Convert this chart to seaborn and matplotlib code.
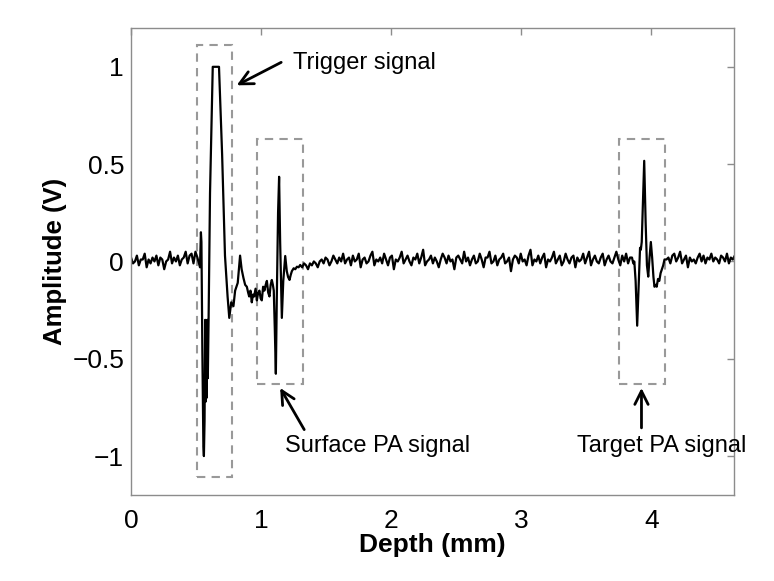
import numpy as np
import pandas as pd
import matplotlib
matplotlib.use('Agg')
import matplotlib.pyplot as plt
from matplotlib.patches import Rectangle
import seaborn as sns

# baseline noise in hundredths of a volt, one sample every 0.015 mm
step_mm = 0.015
noise_a_start = 0.0
noise_a = [2, -1, 0, 3, -2, 1, 1, 4, -3, 1,
           -1, 2, 0, 3, -2, 2, 1, -4, 0, 1,
           5, -1, 2, 0, 3, -2, 1, 2, 5, -1,
           3, 4, -1, 5, 2]

# trigger pulse (clipped at 1 V) and the slow tail after it
trigger_depth = [0.530, 0.537, 0.541, 0.548, 0.556, 0.560, 0.565, 0.570, 0.574, 0.578,
                 0.582, 0.586, 0.590, 0.596, 0.607, 0.628, 0.676, 0.700, 0.722, 0.742,
                 0.755, 0.770, 0.787, 0.800, 0.820, 0.838, 0.850, 0.864]
trigger_amp = [-0.03, 0.15, 0.10, -0.45, -0.95, -1.0, -0.82, -0.30, -0.72, -0.32,
               -0.70, -0.30, -0.60, -0.30, 0.35, 1.0, 1.0, 0.55, 0.03, -0.18,
               -0.29, -0.21, -0.23, -0.15, -0.11, 0.03, -0.04, -0.085]

tail_depth = [0.877, 0.890, 0.900, 0.908, 0.918, 0.928, 0.937, 0.946, 0.957, 0.967,
              0.977, 0.987, 0.996, 1.005, 1.015, 1.025, 1.035, 1.044, 1.054, 1.064,
              1.073, 1.082, 1.090]
tail_amp = [-0.12, -0.13, -0.16, -0.18, -0.15, -0.21, -0.17, -0.18, -0.14, -0.20,
            -0.16, -0.15, -0.19, -0.20, -0.13, -0.15, -0.12, -0.10, -0.16, -0.18,
            -0.12, -0.095, -0.12]

# surface PA signal
surface_depth = [1.097, 1.105, 1.113, 1.120, 1.130, 1.138, 1.146, 1.159, 1.170, 1.185,
                 1.197, 1.207, 1.218, 1.227, 1.236, 1.250, 1.262, 1.275, 1.288, 1.300]
surface_amp = [-0.15, -0.35, -0.577, -0.20, 0.25, 0.435, 0.10, -0.29, -0.10, 0.028,
               -0.05, -0.08, -0.095, -0.07, -0.05, -0.035, -0.04, -0.027, -0.03, -0.018]

noise_b_start = 1.315
noise_b = [-3, -1, -2, -4, -1, -2, 0, -1, -3, 0,
           1, -1, 2, 1, -2, 0, 3, 1, -1, 2,
           0, 4, -1, 1, 2, -2, 3, 0, 1, 4,
           -3, 1, 2, -1, 0, 3, 5, -2, 1, 0,
           2, -1, 4, 1, -2, 2, 3, -4, 1, 0,
           2, 5, -1, 1, 3, 0, -2, 2, 1, 4,
           -1, 2, 6, -2, 0, 1, 3, -1, 2, 0,
           -3, 1, 4, 2, -1, 3, 0, 1, -4, 2,
           3, 1, -1, 5, 0, 2, -2, 1, 3, -1,
           0, 4, 1, -3, 2, 2, 5, -1, 0, 3,
           -2, 1, 2, 4, -1, 0, 2, -5, 1, 3,
           2, -1, 4, 0, 1, -2, 3, 6, -2, 1,
           0, 3, -1, 2, 4, -3, 1, 0, 2, 5,
           -1, 1, 3, -2, 0, 4, 1, -1, 2, 3,
           -3, 2, 0, 1, 4, -1, 2, 5, -2, 1,
           3, 0, -1, 2, 4, -2, 1, 3, 0, -1,
           2, 5, 1, -2, 3, 0, 4, -1, 2]

# target PA signal
target_depth = [3.850, 3.860, 3.868, 3.878, 3.890, 3.900, 3.912, 3.918, 3.925, 3.944,
                3.955, 3.965, 3.975, 3.985, 3.995, 4.005, 4.015, 4.023, 4.033, 4.040,
                4.050, 4.060, 4.070, 4.080, 4.090, 4.100]
target_amp = [0.02, -0.01, 0.0, -0.10, -0.33, -0.15, 0.07, 0.06, 0.10, 0.517,
              0.20, -0.02, -0.078, 0.02, 0.10, 0.02, -0.08, -0.13, -0.12, -0.13,
              -0.09, -0.10, -0.06, -0.04, -0.02, 0.01]

noise_c_start = 4.115
noise_c = [1, 2, -1, 3, 4, 0, 2, 5, -1, 1,
           3, -3, 2, 0, 1, -1, 2, 4, 0, 3,
           -1, 2, 1, 4, 0, 2, 1, -1, 3, 2,
           0, 4, -1, 2, 1, 3]

x_ticks = [0, 1, 2, 3, 4]
y_ticks = [-1, -0.5, 0, 0.5, 1]
y_tick_labels = ['\u22121', '\u22120.5', '0', '0.5', '1']


def noise_part(start, vals):
    d = start + step_mm * np.arange(len(vals))
    return d, np.array(vals) / 100.0


na_d, na_v = noise_part(noise_a_start, noise_a)
nb_d, nb_v = noise_part(noise_b_start, noise_b)
nc_d, nc_v = noise_part(noise_c_start, noise_c)

df = pd.DataFrame({
    'depth': np.concatenate([na_d, trigger_depth, tail_depth, surface_depth, nb_d, target_depth, nc_d]),
    'amp': np.concatenate([na_v, trigger_amp, tail_amp, surface_amp, nb_v, target_amp, nc_v]),
})

sns.set_style('white')
plt.rcParams['font.family'] = ['Liberation Sans', 'DejaVu Sans']
plt.rcParams['text.color'] = 'black'
plt.rcParams['axes.labelcolor'] = 'black'

fig = plt.figure(figsize=(7.74, 5.81), dpi=100)
ax = fig.add_axes([0.1693, 0.148, 0.779, 0.804])

sns.lineplot(data=df, x='depth', y='amp', ax=ax, color='black', lw=1.6,
             sort=False, estimator=None)

gray = '#8c8c8c'
dash_gray = '#999999'
# dashed boxes round the three signals
for x0, x1, h in [(0.508, 0.777, 1.11), (0.967, 1.318, 0.63), (3.754, 4.10, 0.63)]:
    ax.add_patch(Rectangle((x0, -h), x1 - x0, 2 * h, fill=False, ec=dash_gray,
                           lw=1.5, ls=(0, (4, 3)), zorder=1))

arrow = dict(arrowstyle='->', color='black', lw=2.0, mutation_scale=24,
             shrinkA=0, shrinkB=0)
ax.annotate('', xy=(0.812, 0.905), xytext=(1.154, 1.023), arrowprops=arrow)
ax.text(1.246, 1.018, 'Trigger signal', fontsize=17, va='center', ha='left')
ax.annotate('', xy=(1.146, -0.65), xytext=(1.331, -0.864), arrowprops=arrow)
ax.text(1.892, -0.946, 'Surface PA signal', fontsize=17, va='center', ha='center')
ax.annotate('', xy=(3.923, -0.65), xytext=(3.923, -0.855), arrowprops=arrow)
ax.text(4.077, -0.946, 'Target PA signal', fontsize=17, va='center', ha='center',
        clip_on=False)

ax.set_xlim(0, 4.634)
ax.set_ylim(-1.2, 1.2)
ax.set_xticks(x_ticks)
ax.set_yticks(y_ticks)
ax.set_yticklabels(y_tick_labels)
ax.tick_params(direction='in', length=5, width=1, color=gray, labelcolor='black',
               labelsize=19, top=True, right=True)
ax.tick_params(axis='x', pad=10)
ax.tick_params(axis='y', pad=5)
for s in ax.spines.values():
    s.set_color(gray)
    s.set_linewidth(1.0)

ax.set_xlabel('Depth (mm)', fontsize=19, fontweight='bold', labelpad=0)
ax.set_ylabel('Amplitude (V)', fontsize=18.5, fontweight='bold', labelpad=4)

fig.savefig('out.png', dpi=100)
